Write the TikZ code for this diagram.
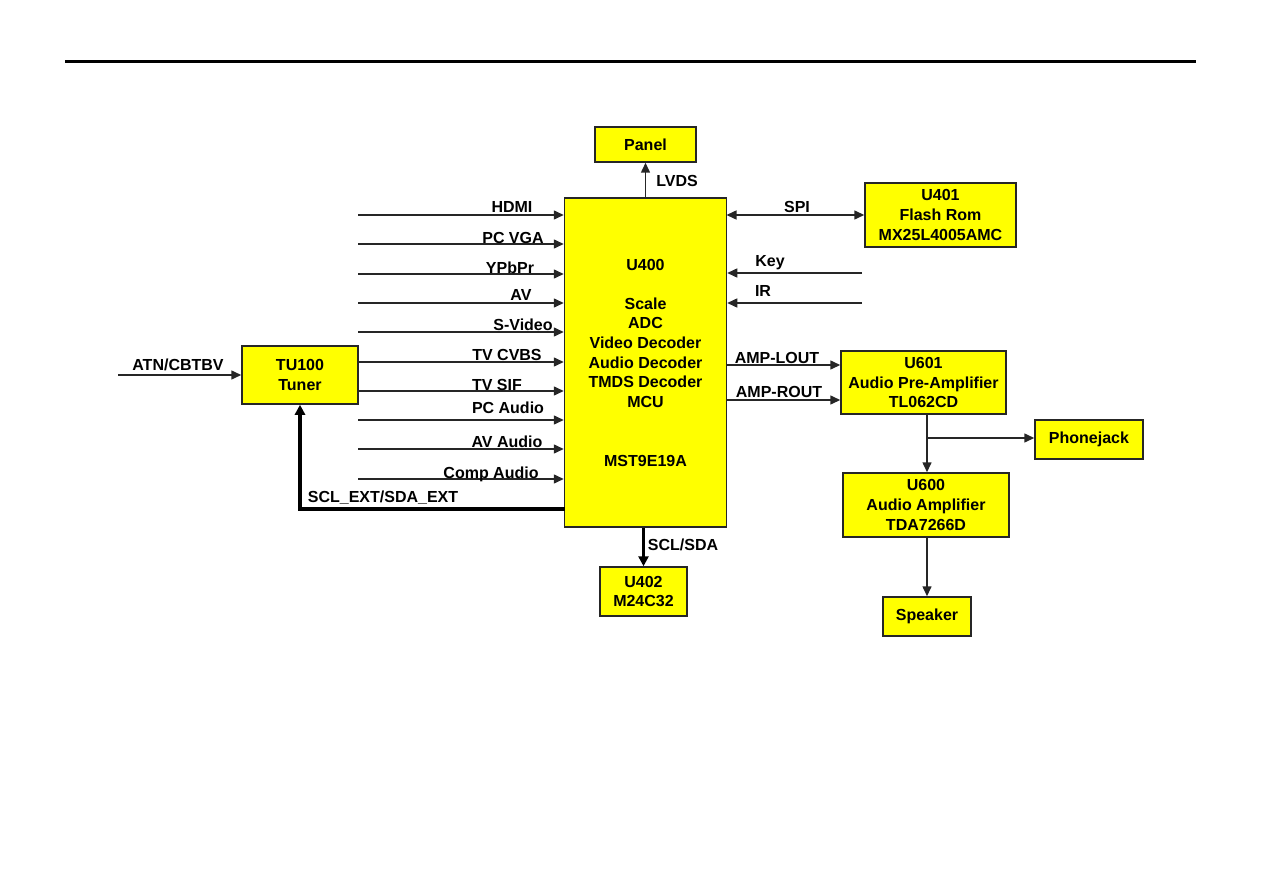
\documentclass[tikz,border=0pt]{standalone}
\usepackage{fontspec}
\setmainfont{Liberation Sans}
\usetikzlibrary{arrows.meta}
\definecolor{boxyellow}{RGB}{255,255,0}
\begin{document}
\begin{tikzpicture}[x=1pt,y=-1pt,
  font=\bfseries\fontsize{16}{19.6}\selectfont,
  box/.style={draw=black!85,line width=1.5pt,fill=boxyellow,inner sep=0pt,align=center},
  arr/.style={draw=black!85,line width=1.5pt,-{Triangle[length=10pt,width=9pt]}},
  barr/.style={draw=black!85,line width=1.5pt,{Triangle[length=10pt,width=9pt]}-{Triangle[length=10pt,width=9pt]}},
  tarr/.style={draw=black,line width=3.4pt,-{Triangle[length=10pt,width=10pt]}},
  lbl/.style={anchor=base,inner sep=0pt}]
\useasboundingbox (0,0) rectangle (1263,893);
\draw[line width=3pt] (65,62) -- (1196,62);

% boxes
\node[box,minimum width=162pt,minimum height=329pt] (u400) at (645.5,362.5)
  {U400\\ \mbox{}\\ Scale\\ ADC\\ Video Decoder\\ Audio Decoder\\ TMDS Decoder\\ MCU\\ \mbox{}\\ \mbox{}\\ MST9E19A};
\node[box,minimum width=101pt,minimum height=35pt] (panel) at (645.5,144.5) {Panel};
\node[box,minimum width=151pt,minimum height=64pt] (u401) at (940.5,215) {U401\\ Flash Rom\\ MX25L4005AMC};
\node[box,minimum width=116pt,minimum height=58pt] (tu) at (300,375) {TU100\\ Tuner};
\node[box,minimum width=165pt,minimum height=63pt] (u601) at (923.5,382.5) {U601\\ Audio Pre-Amplifier\\ TL062CD};
\node[box,minimum width=108pt,minimum height=39pt] (phone) at (1089,439.5) {Phonejack};
\node[box,minimum width=166pt,minimum height=64pt] (u600) at (926,505) {U600\\ Audio Amplifier\\ TDA7266D};
\node[box,minimum width=88pt,minimum height=39pt] (spk) at (927,616.5) {Speaker};
\node[box,minimum width=87pt,minimum height=49pt] (u402) at (643.5,591.5) {U402\\ M24C32};

% free ends
\coordinate (iHDMI) at (358,215);
\coordinate (iVGA) at (358,244);
\coordinate (iYPbPr) at (358,274);
\coordinate (iAV) at (358,303);
\coordinate (iSV) at (358,332);
\coordinate (iCVBS) at (358,362);
\coordinate (iSIF) at (358,391);
\coordinate (iPCA) at (358,420);
\coordinate (iAVA) at (358,449);
\coordinate (iCA) at (358,479);
\coordinate (iATN) at (118,375);
\coordinate (iKey) at (862,273);
\coordinate (iIR) at (862,303);
\coordinate (sclext) at (564.5,509);
\coordinate (spi) at (726.5,215);
\coordinate (lout) at (726.5,365);
\coordinate (rout) at (726.5,400);
\coordinate (br) at (927,438);

% connectors
\foreach \c in {iHDMI,iVGA,iYPbPr,iAV,iSV,iCVBS,iSIF,iPCA,iAVA,iCA}
  \draw[arr] (\c) -- (\c -| u400.west);
\draw[arr] (iATN) -- (iATN -| tu.west);
\draw[arr] (u400.north) -- (panel.south);
\draw[barr] (spi) -- (spi -| u401.west);
\draw[arr] (iKey) -- (iKey -| u400.east);
\draw[arr] (iIR) -- (iIR -| u400.east);
\draw[arr] (lout) -- (lout -| u601.west);
\draw[arr] (rout) -- (rout -| u601.west);
\draw[tarr] (sclext) -| (tu.south);
\draw[tarr] (u402.north |- u400.south) -- (u402.north);
\draw[arr] (br |- u601.south) -- (br |- u600.north);
\draw[arr] (br) -- (br -| phone.west);
\draw[arr] (spk.north |- u600.south) -- (spk.north);

% labels
\node[lbl] (lHDMI) at (512,213) {HDMI};
\node[lbl] (lVGA) at (513,244) {PC VGA};
\node[lbl] (lYPbPr) at (510,273) {YPbPr};
\node[lbl] (lAV) at (521,300) {AV};
\node[lbl] (lSV) at (523,330) {S-Video};
\node[lbl] (lCVBS) at (507,360) {TV CVBS};
\node[lbl] (lSIF) at (497,390) {TV SIF};
\node[lbl] (lPCA) at (508,413) {PC Audio};
\node[lbl] (lAVA) at (507,447) {AV Audio};
\node[lbl] (lCA) at (491,478) {Comp Audio};
\node[lbl] (lATN) at (178,370) {ATN/CBTBV};
\node[lbl] (lSCLE) at (383,502) {SCL\_EXT/SDA\_EXT};
\node[lbl] (lLVDS) at (677,187) {LVDS};
\node[lbl] (lSCL) at (683,550) {SCL/SDA};
\node[lbl] (lSPI) at (797,213) {SPI};
\node[lbl] (lKey) at (770,266) {Key};
\node[lbl] (lIR) at (763,297) {IR};
\node[lbl] (lLOUT) at (777,363) {AMP-LOUT};
\node[lbl] (lROUT) at (779,397) {AMP-ROUT};
\end{tikzpicture}
\end{document}
